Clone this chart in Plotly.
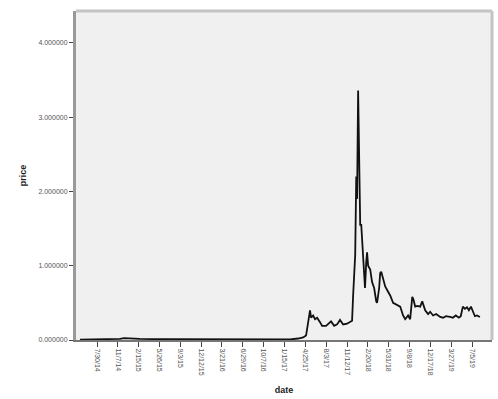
import plotly.graph_objects as go

dates = [
    "2014-05-09", "2014-09-30", "2014-11-17", "2014-12-07", "2015-01-04", "2015-02-21",
    "2015-05-28", "2015-12-06", "2016-08-03", "2017-02-11", "2017-03-22", "2017-04-15",
    "2017-04-29", "2017-05-09", "2017-05-18", "2017-05-23", "2017-06-02", "2017-06-11",
    "2017-06-21", "2017-07-05", "2017-07-15", "2017-08-03", "2017-08-18", "2017-08-27",
    "2017-09-11", "2017-09-25", "2017-10-09", "2017-10-24", "2017-11-12", "2017-11-26",
    "2017-12-06", "2017-12-11", "2017-12-16", "2017-12-21", "2017-12-26", "2017-12-30",
    "2018-01-04", "2018-01-09", "2018-01-14", "2018-01-19", "2018-01-24", "2018-01-28",
    "2018-02-02", "2018-02-06", "2018-02-12", "2018-02-16", "2018-02-21", "2018-03-03",
    "2018-03-12", "2018-03-22", "2018-04-01", "2018-04-05", "2018-04-15", "2018-04-20",
    "2018-04-25", "2018-05-04", "2018-05-14", "2018-05-28", "2018-06-07", "2018-06-21",
    "2018-07-06", "2018-07-15", "2018-07-25", "2018-08-08", "2018-08-18", "2018-09-01",
    "2018-09-11", "2018-09-21", "2018-09-26", "2018-10-05", "2018-10-15", "2018-10-29",
    "2018-11-08", "2018-11-22", "2018-12-06", "2018-12-16", "2018-12-30", "2019-01-14",
    "2019-02-02", "2019-02-16", "2019-03-02", "2019-03-21", "2019-04-04", "2019-04-18",
    "2019-05-03", "2019-05-12", "2019-05-22", "2019-06-01", "2019-06-11", "2019-06-20",
    "2019-06-30", "2019-07-10", "2019-07-19", "2019-07-29", "2019-08-12",
]
price = [
    0.005, 0.005, 0.015, 0.025, 0.020, 0.015,
    0.010, 0.008, 0.007, 0.007, 0.020, 0.035,
    0.060, 0.250, 0.400, 0.300, 0.330, 0.280,
    0.300, 0.240, 0.190, 0.190, 0.220, 0.250,
    0.190, 0.210, 0.270, 0.210, 0.220, 0.240,
    0.260, 0.600, 0.850, 1.150, 2.200, 1.900,
    3.360, 2.200, 1.550, 1.550, 1.300, 1.100,
    0.900, 0.700, 1.050, 1.180, 1.000, 0.950,
    0.780, 0.700, 0.520, 0.500, 0.700, 0.900,
    0.920, 0.820, 0.720, 0.650, 0.600, 0.500,
    0.480, 0.460, 0.450, 0.330, 0.280, 0.330,
    0.280, 0.580, 0.550, 0.450, 0.460, 0.450,
    0.520, 0.400, 0.350, 0.380, 0.330, 0.350,
    0.310, 0.300, 0.320, 0.310, 0.300, 0.330,
    0.300, 0.320, 0.450, 0.420, 0.440, 0.400,
    0.450, 0.380, 0.320, 0.330, 0.310,
]

tick_dates = [
    "2014-07-30", "2014-11-07", "2015-02-15", "2015-05-26", "2015-09-03", "2015-12-12",
    "2016-03-21", "2016-06-29", "2016-10-07", "2017-01-15", "2017-04-25", "2017-08-03",
    "2017-11-12", "2018-02-20", "2018-05-31", "2018-09-08", "2018-12-17", "2019-03-27",
    "2019-07-05",
]
tick_text = [
    "7/30/14", "11/7/14", "2/15/15", "5/26/15", "9/3/15", "12/12/15",
    "3/21/16", "6/29/16", "10/7/16", "1/15/17", "4/25/17", "8/3/17",
    "11/12/17", "2/20/18", "5/31/18", "9/8/18", "12/17/18", "3/27/19",
    "7/5/19",
]
y_ticks = [0, 1, 2, 3, 4]
y_text = ["0.000000", "1.000000", "2.000000", "3.000000", "4.000000"]

fig = go.Figure()
fig.add_trace(go.Scatter(x=dates, y=price, mode="lines",
                         line=dict(color="#111111", width=1.8), showlegend=False))

fig.update_layout(
    width=498, height=399,
    margin=dict(l=76, r=6, t=11, b=59),
    paper_bgcolor="white", plot_bgcolor="#f0f0f0",
    font=dict(family="Liberation Sans, Arial, sans-serif", size=7, color="#555555"),
    xaxis=dict(
        type="date", range=["2014-04-20", "2019-10-09"],
        tickmode="array", tickvals=tick_dates, ticktext=tick_text,
        tickangle=90, ticks="outside", ticklen=5, tickcolor="#444444", tickwidth=1,
        showgrid=False, zeroline=False,
        showline=True, linecolor="#777777", linewidth=2,
        title=dict(text="<b>date</b>", font=dict(size=9, color="#222222"), standoff=12),
        tickfont=dict(size=7, color="#555555"),
    ),
    yaxis=dict(
        range=[0, 4.43], tickmode="array", tickvals=y_ticks, ticktext=y_text,
        ticks="outside", ticklen=4, tickcolor="#444444", tickwidth=1,
        showgrid=False, zeroline=False,
        showline=True, linecolor="#999999", linewidth=3,
        title=dict(text="<b>price</b>", font=dict(size=9, color="#222222"), standoff=11),
        tickfont=dict(size=7, color="#555555"),
    ),
)
fig.add_shape(type="line", xref="paper", yref="paper", x0=0, x1=1, y0=1, y1=1,
              line=dict(color="#c4c4c4", width=3))
fig.add_shape(type="line", xref="paper", yref="paper", x0=1, x1=1, y0=0, y1=1,
              line=dict(color="#c4c4c4", width=3))

fig.write_html("out.html")
